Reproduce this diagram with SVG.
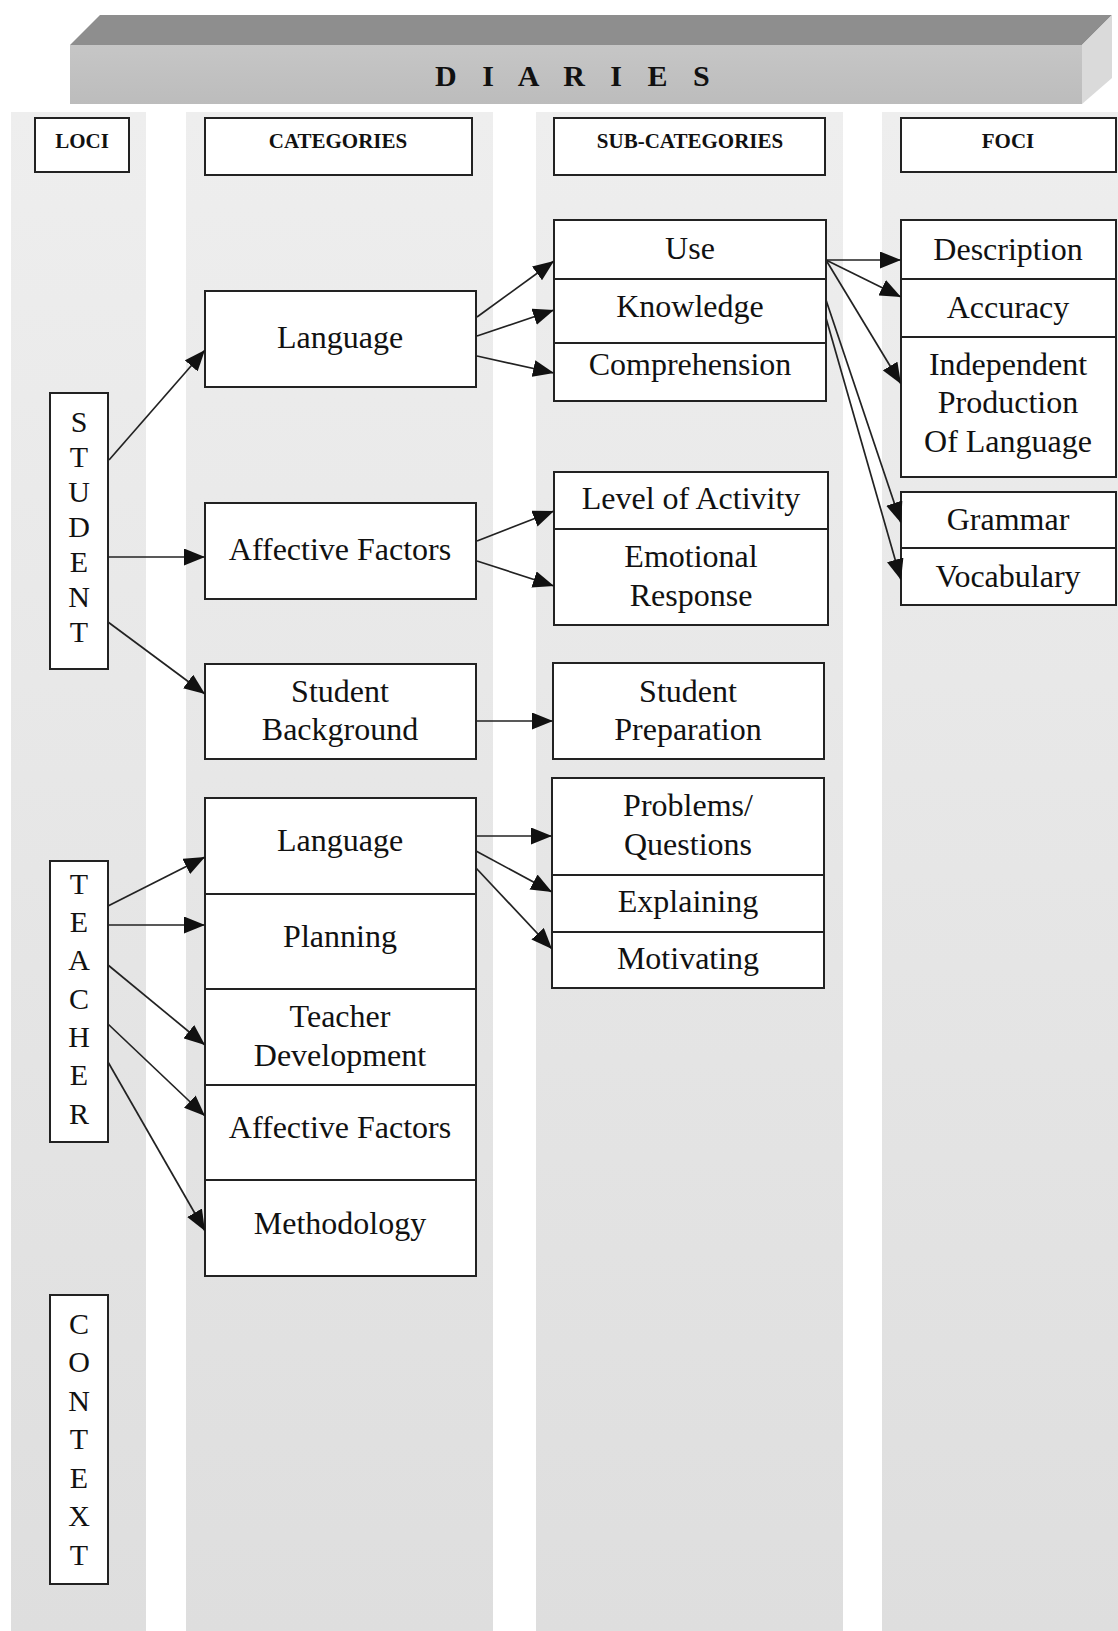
<svg xmlns="http://www.w3.org/2000/svg" width="1118" height="1631" viewBox="0 0 1118 1631">
<style>
.box{fill:#fff;stroke:#222;stroke-width:2}
.div{stroke:#222;stroke-width:2;fill:none}
.t{font-family:"Liberation Serif","Times New Roman",serif;font-size:32px;fill:#111;text-anchor:middle}
.v{font-family:"Liberation Serif","Times New Roman",serif;font-size:30px;fill:#111;text-anchor:middle}
.h{font-family:"Liberation Serif","Times New Roman",serif;font-size:21px;font-weight:bold;fill:#111;text-anchor:middle}
.stripe{fill:url(#sg)}
.con line{stroke:#222;stroke-width:1.7;marker-end:url(#ah)}
</style>
<defs>
<linearGradient id="sg" x1="0" y1="0" x2="0" y2="1">
<stop offset="0" stop-color="#eeeeee"/>
<stop offset="1" stop-color="#dedede"/>
</linearGradient>
<linearGradient id="front" x1="0" y1="0" x2="0" y2="1">
<stop offset="0" stop-color="#c6c6c6"/>
<stop offset="1" stop-color="#bcbcbc"/>
</linearGradient>
<marker id="ah" markerUnits="userSpaceOnUse" markerWidth="21" markerHeight="17" refX="21" refY="8.5" orient="auto">
<path d="M0,0 L21,8.5 L0,17 z" fill="#111"/>
</marker>
</defs>
<rect width="1118" height="1631" fill="#fff"/>
<g id="stripes">
<rect class="stripe" x="11" y="112" width="135" height="1519"/>
<rect class="stripe" x="186" y="112" width="307" height="1519"/>
<rect class="stripe" x="536" y="112" width="307" height="1519"/>
<rect class="stripe" x="882" y="112" width="236" height="1519"/>
</g>
<g id="banner">
<polygon points="70,45 100,15 1112,15 1082,45" fill="#8e8e8e"/>
<polygon points="1082,45 1112,15 1112,78 1082,104" fill="#dadada"/>
<rect x="70" y="45" width="1012" height="59" fill="url(#front)"/>
<text x="435" y="86" font-family="Liberation Serif, serif" font-size="30" font-weight="bold" letter-spacing="9" fill="#111">D I A R I E S</text>
</g>
<g id="hdr-loci"><rect class="box" x="35" y="118" width="94" height="54"/><text class="h" x="82" y="148">LOCI</text></g>
<g id="hdr-categories"><rect class="box" x="205" y="118" width="267" height="57"/><text class="h" x="338" y="148">CATEGORIES</text></g>
<g id="hdr-subcategories"><rect class="box" x="554" y="118" width="271" height="57"/><text class="h" x="690" y="148">SUB-CATEGORIES</text></g>
<g id="hdr-foci"><rect class="box" x="901" y="118" width="215" height="54"/><text class="h" x="1008" y="148">FOCI</text></g>

<g id="student"><rect class="box" x="50" y="393" width="58" height="276"/>
<text class="v" x="79" y="432">S</text><text class="v" x="79" y="467">T</text><text class="v" x="79" y="502">U</text><text class="v" x="79" y="537">D</text><text class="v" x="79" y="572">E</text><text class="v" x="79" y="607">N</text><text class="v" x="79" y="642">T</text></g>
<g id="teacher"><rect class="box" x="50" y="861" width="58" height="281"/>
<text class="v" x="79" y="894">T</text><text class="v" x="79" y="932">E</text><text class="v" x="79" y="970">A</text><text class="v" x="79" y="1009">C</text><text class="v" x="79" y="1047">H</text><text class="v" x="79" y="1085">E</text><text class="v" x="79" y="1124">R</text></g>
<g id="context"><rect class="box" x="50" y="1295" width="58" height="289"/>
<text class="v" x="79" y="1334">C</text><text class="v" x="79" y="1372">O</text><text class="v" x="79" y="1411">N</text><text class="v" x="79" y="1449">T</text><text class="v" x="79" y="1488">E</text><text class="v" x="79" y="1526">X</text><text class="v" x="79" y="1565">T</text></g>

<g id="s-language"><rect class="box" x="205" y="291" width="271" height="96"/><text class="t" x="340" y="348">Language</text></g>
<g id="s-affective"><rect class="box" x="205" y="503" width="271" height="96"/><text class="t" x="340" y="560">Affective Factors</text></g>
<g id="s-background"><rect class="box" x="205" y="664" width="271" height="95"/><text class="t" x="340" y="702">Student</text><text class="t" x="340" y="740">Background</text></g>

<g id="sub-language"><rect class="box" x="554" y="220" width="272" height="181"/>
<line class="div" x1="554" y1="279" x2="826" y2="279"/><line class="div" x1="554" y1="343" x2="826" y2="343"/>
<text class="t" x="690" y="259">Use</text><text class="t" x="690" y="317">Knowledge</text><text class="t" x="690" y="375">Comprehension</text></g>
<g id="sub-affective"><rect class="box" x="554" y="472" width="274" height="153"/>
<line class="div" x1="554" y1="529" x2="828" y2="529"/>
<text class="t" x="691" y="509">Level of Activity</text><text class="t" x="691" y="567">Emotional</text><text class="t" x="691" y="606">Response</text></g>
<g id="sub-preparation"><rect class="box" x="553" y="663" width="271" height="96"/><text class="t" x="688" y="702">Student</text><text class="t" x="688" y="740">Preparation</text></g>

<g id="foci-1"><rect class="box" x="901" y="220" width="215" height="257"/>
<line class="div" x1="901" y1="279" x2="1116" y2="279"/><line class="div" x1="901" y1="337" x2="1116" y2="337"/>
<text class="t" x="1008" y="260">Description</text><text class="t" x="1008" y="318">Accuracy</text>
<text class="t" x="1008" y="375">Independent</text><text class="t" x="1008" y="413">Production</text><text class="t" x="1008" y="452">Of Language</text></g>
<g id="foci-2"><rect class="box" x="901" y="492" width="215" height="113"/>
<line class="div" x1="901" y1="548" x2="1116" y2="548"/>
<text class="t" x="1008" y="530">Grammar</text><text class="t" x="1008" y="587">Vocabulary</text></g>

<g id="t-categories"><rect class="box" x="205" y="798" width="271" height="478"/>
<line class="div" x1="205" y1="894" x2="476" y2="894"/><line class="div" x1="205" y1="989" x2="476" y2="989"/>
<line class="div" x1="205" y1="1085" x2="476" y2="1085"/><line class="div" x1="205" y1="1180" x2="476" y2="1180"/>
<text class="t" x="340" y="851">Language</text><text class="t" x="340" y="947">Planning</text>
<text class="t" x="340" y="1027">Teacher</text><text class="t" x="340" y="1066">Development</text>
<text class="t" x="340" y="1138">Affective Factors</text><text class="t" x="340" y="1234">Methodology</text></g>
<g id="t-sub"><rect class="box" x="552" y="778" width="272" height="210"/>
<line class="div" x1="552" y1="875" x2="824" y2="875"/><line class="div" x1="552" y1="932" x2="824" y2="932"/>
<text class="t" x="688" y="816">Problems/</text><text class="t" x="688" y="855">Questions</text>
<text class="t" x="688" y="912">Explaining</text><text class="t" x="688" y="969">Motivating</text></g>

<g id="connectors" class="con">
<line x1="109" y1="460" x2="205" y2="350"/>
<line x1="108" y1="557" x2="205" y2="557"/>
<line x1="108" y1="622" x2="205" y2="694"/>
<line x1="477" y1="317" x2="554" y2="261"/>
<line x1="477" y1="336" x2="554" y2="310"/>
<line x1="477" y1="356" x2="554" y2="373"/>
<line x1="477" y1="541" x2="554" y2="511"/>
<line x1="477" y1="561" x2="554" y2="586"/>
<line x1="476" y1="721" x2="553" y2="721"/>
<line x1="108" y1="906" x2="205" y2="857"/>
<line x1="108" y1="925" x2="205" y2="925"/>
<line x1="108" y1="965" x2="205" y2="1045"/>
<line x1="108" y1="1024" x2="205" y2="1116"/>
<line x1="108" y1="1062" x2="205" y2="1231"/>
<line x1="476" y1="836" x2="552" y2="836"/>
<line x1="476" y1="851" x2="552" y2="892"/>
<line x1="476" y1="868" x2="552" y2="949"/>
<line x1="826" y1="260" x2="901" y2="260"/>
<line x1="826" y1="260" x2="901" y2="297"/>
<line x1="826" y1="260" x2="901" y2="384"/>
<line x1="826" y1="300" x2="901" y2="523"/>
<line x1="826" y1="318" x2="901" y2="580"/>
</g>
</svg>
